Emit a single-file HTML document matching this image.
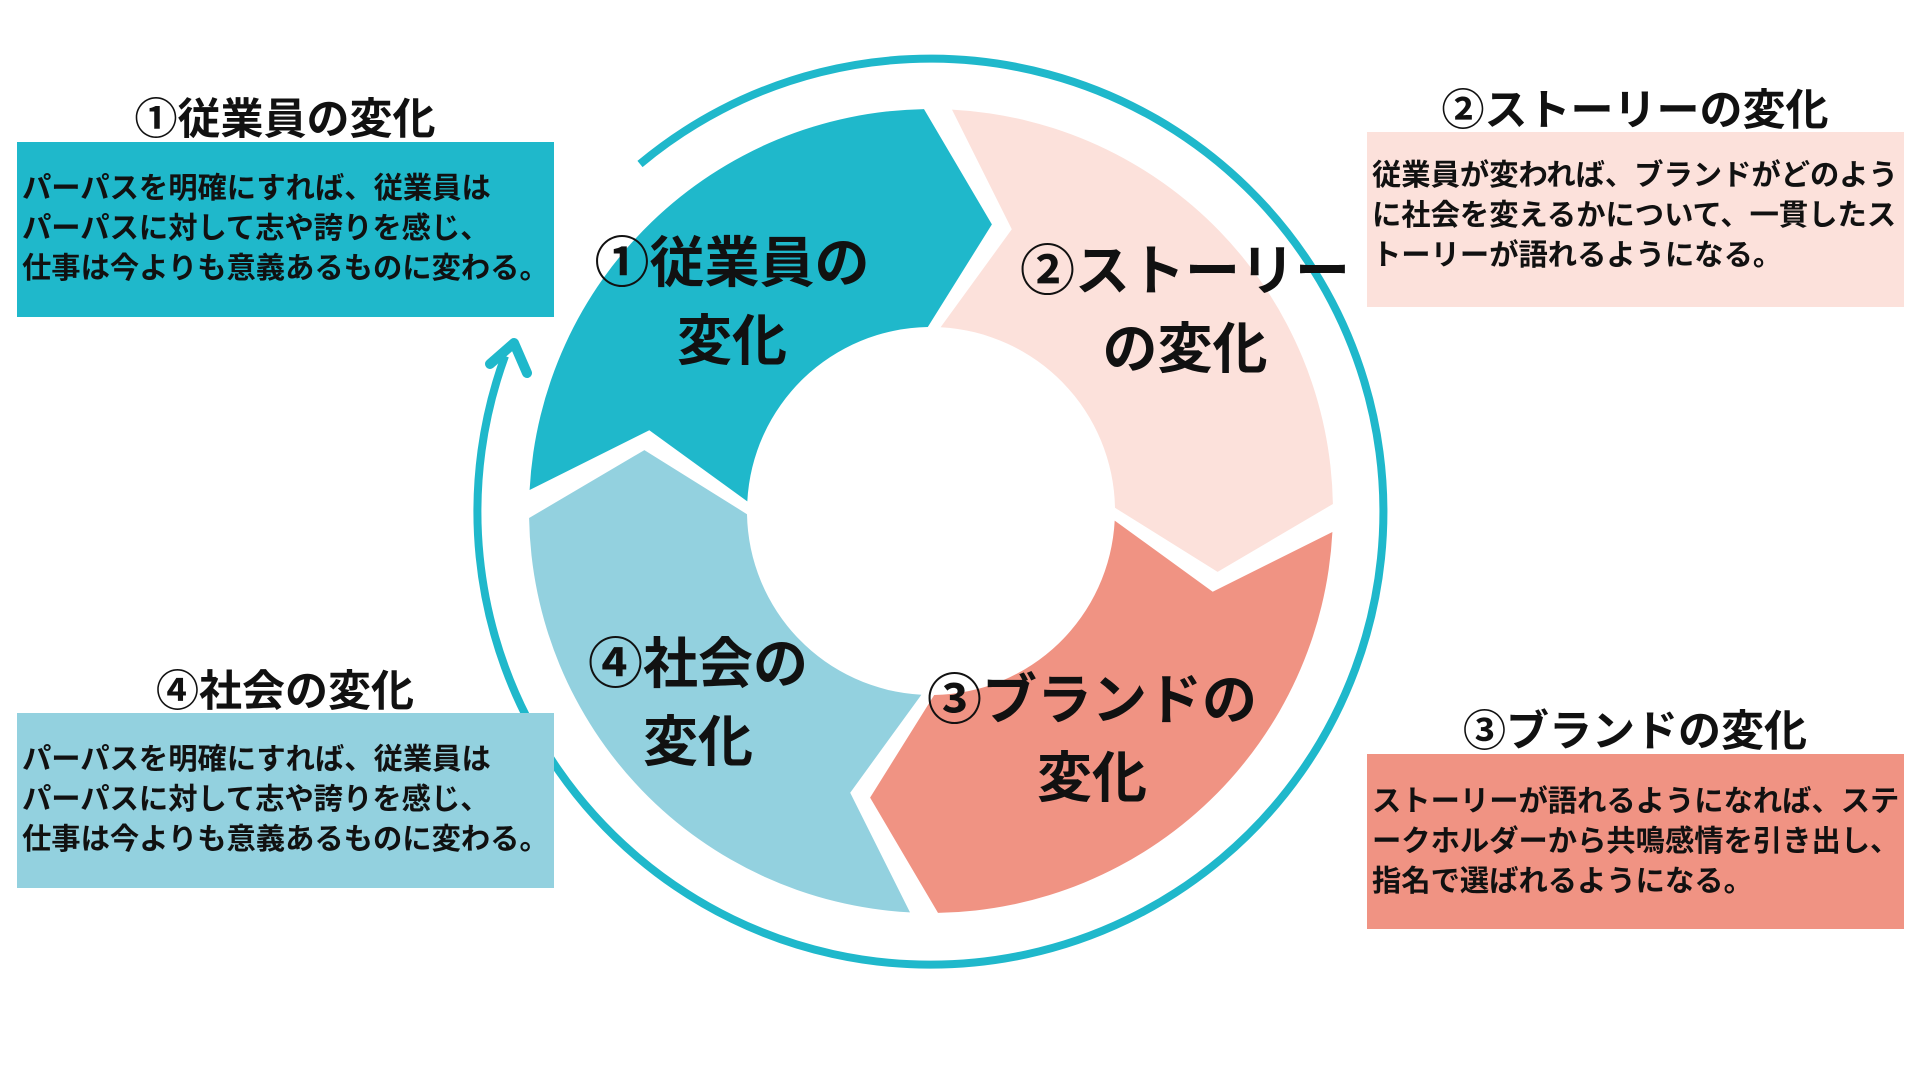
<!DOCTYPE html>
<html><head><meta charset="utf-8">
<style>
html,body{margin:0;padding:0;background:#fff;}
body{width:1920px;height:1080px;position:relative;overflow:hidden;font-family:"Liberation Sans","Noto Sans CJK JP",sans-serif;font-weight:bold;color:#111;}
.t{position:absolute;white-space:nowrap;text-align:center;transform:translate(-50%,-50%);}
.h{font-size:43px;}
.big{font-size:55px;line-height:78px;}
.box{position:absolute;width:537px;height:175px;box-sizing:border-box;padding:27px 0 0 5px;font-size:29.3px;line-height:40px;white-space:nowrap;}
svg{position:absolute;left:0;top:0;}
</style></head><body>
<svg width="1920" height="1080" viewBox="0 0 1920 1080">
<defs>
<path id="seg" d="M529.6,490 A402,402 0 0 1 924,109.1 L991.9,224.4 L927.8,327 A184,184 0 0 0 747.3,501.4 L649.3,430.2 Z"/>
</defs>
<path d="M640,164 A453,453 0 1 1 505,356" fill="none" stroke="#1fb8cb" stroke-width="8"/>
<polyline points="490,364 514,343 527,373" fill="none" stroke="#1fb8cb" stroke-width="10" stroke-linecap="round" stroke-linejoin="round"/>
<use href="#seg" fill="#1fb8cb"/>
<use href="#seg" fill="#fce1db" transform="rotate(90 931 511)"/>
<use href="#seg" fill="#f09383" transform="rotate(180 931 511)"/>
<use href="#seg" fill="#93d1df" transform="rotate(270 931 511)"/>
</svg>

<div class="t h" style="left:285px;top:116px;">①従業員の変化</div>
<div class="box" style="left:17px;top:142px;background:#1fb8cb;">パーパスを明確にすれば、従業員は<br>パーパスに対して志や誇りを感じ、<br>仕事は今よりも意義あるものに変わる。</div>

<div class="t h" style="left:285px;top:688px;">④社会の変化</div>
<div class="box" style="left:17px;top:713px;background:#93d1df;">パーパスを明確にすれば、従業員は<br>パーパスに対して志や誇りを感じ、<br>仕事は今よりも意義あるものに変わる。</div>

<div class="t h" style="left:1635px;top:107px;">②ストーリーの変化</div>
<div class="box" style="left:1367px;top:132px;background:#fce1db;padding-top:24px;">従業員が変われば、ブランドがどのよう<br>に社会を変えるかについて、一貫したス<br>トーリーが語れるようになる。</div>

<div class="t h" style="left:1635px;top:728px;">③ブランドの変化</div>
<div class="box" style="left:1367px;top:754px;background:#f09383;padding-top:28px;">ストーリーが語れるようになれば、ステ<br>ークホルダーから共鳴感情を引き出し、<br>指名で選ばれるようになる。</div>

<div class="t big" style="left:732px;top:302px;">①従業員の<br>変化</div>
<div class="t big" style="left:1185px;top:310px;">②ストーリー<br>の変化</div>
<div class="t big" style="left:1092px;top:739px;">③ブランドの<br>変化</div>
<div class="t big" style="left:698px;top:703px;">④社会の<br>変化</div>
</body></html>
